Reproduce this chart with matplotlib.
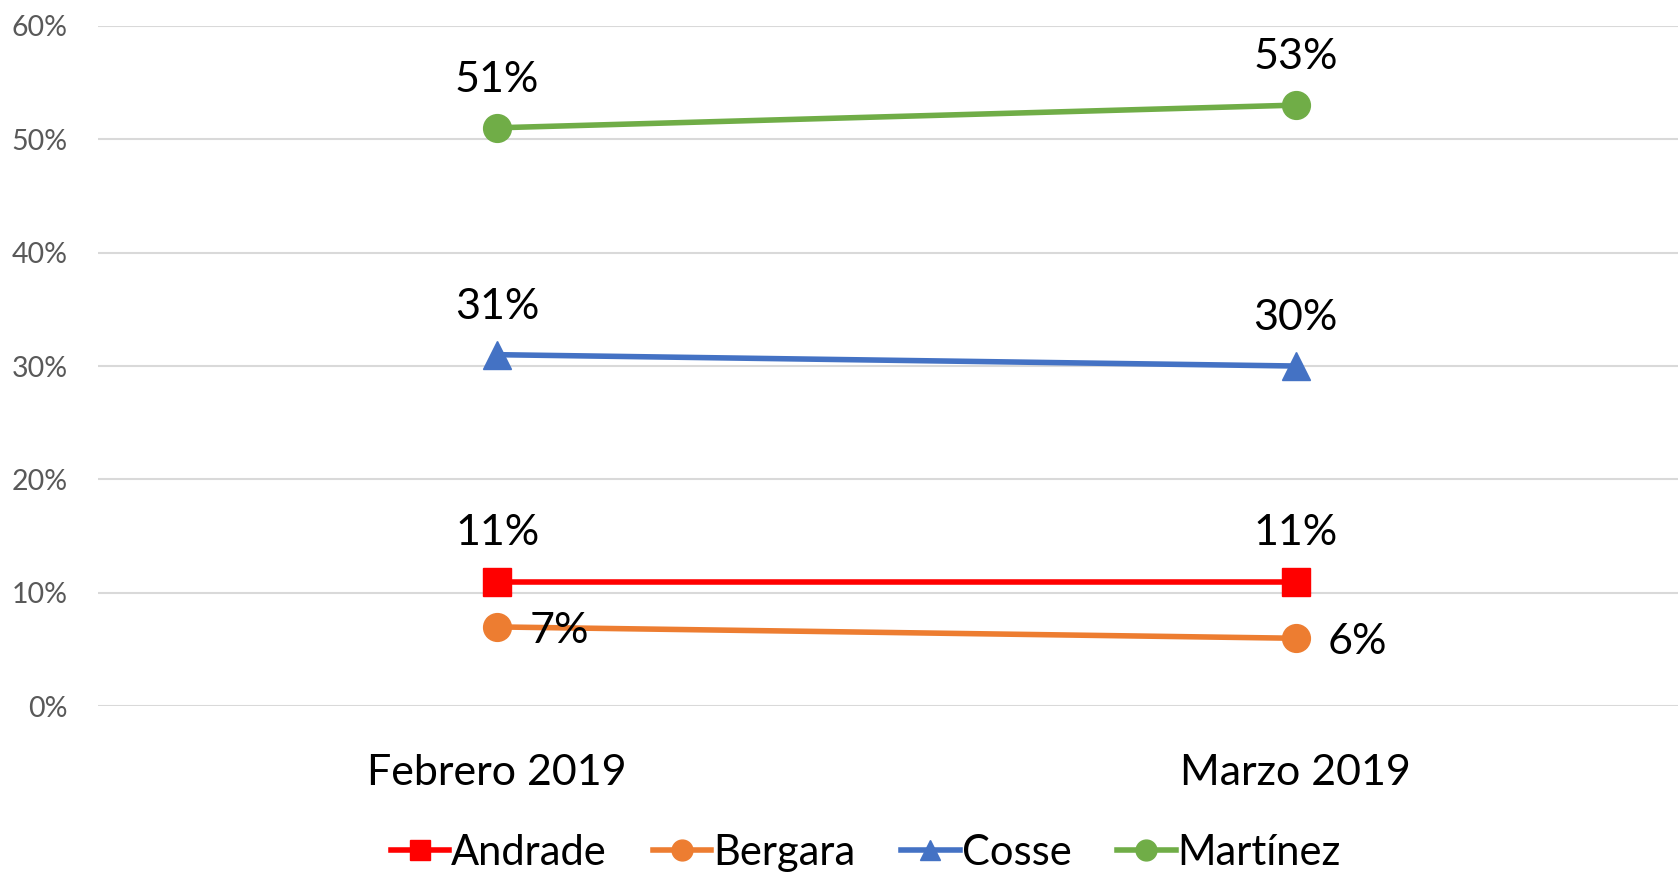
import matplotlib.pyplot as plt
from matplotlib.ticker import PercentFormatter

# data
months = ["Febrero 2019", "Marzo 2019"]
andrade = [0.11, 0.11]
bergara = [0.07, 0.06]
cosse = [0.31, 0.30]
martinez = [0.51, 0.53]

series = [
    ("Andrade", andrade, "#FF0000", "s", "above"),
    ("Bergara", bergara, "#ED7D31", "o", "right"),
    ("Cosse", cosse, "#4472C4", "^", "above"),
    ("Martínez", martinez, "#70AD47", "o", "above"),
]

plt.rcParams['font.family'] = ['Lato', 'DejaVu Sans']

fig = plt.figure(figsize=(16.78, 8.72), dpi=100)
# plot area runs a little past the right edge, like the original
ax = fig.add_axes([0.0584, 0.19, 0.9516, 0.7805])

x = list(range(len(months)))
for name, vals, color, marker, pos in series:
    ax.plot(x, vals, color=color, lw=4, marker=marker, markersize=20,
            label=name, zorder=3)
    for xi, v in zip(x, vals):
        txt = f"{v*100:.0f}%"
        if pos == "above":
            ax.annotate(txt, (xi, v), xytext=(0, 21), textcoords="offset points",
                        ha="center", va="bottom", fontsize=31, color="black")
        else:
            ax.annotate(txt, (xi, v), xytext=(23, -3), textcoords="offset points",
                        ha="left", va="center", fontsize=31, color="black")

ax.set_xlim(-0.5, 1.5)
ax.set_ylim(0, 0.6)
ax.set_yticks([0, 0.1, 0.2, 0.3, 0.4, 0.5, 0.6])
ax.yaxis.set_major_formatter(PercentFormatter(1.0, decimals=0))
ax.set_xticks(x)
ax.set_xticklabels(months)
ax.grid(axis="y", color="#D9D9D9", lw=1.5, zorder=0)
ax.set_axisbelow(True)
for s in ax.spines.values():
    s.set_visible(False)
ax.tick_params(axis="y", length=0, pad=22, labelsize=20.5, labelcolor="#595959")
ax.tick_params(axis="x", length=0, pad=34, labelsize=31, labelcolor="black")

handles, labels = ax.get_legend_handles_labels()
fig.legend(handles, labels, loc="center", bbox_to_anchor=(0.516, 0.022), ncol=4,
           frameon=False, fontsize=30, handlelength=1.4, handletextpad=0.05,
           columnspacing=1.1, markerscale=0.75, borderpad=0)

fig.savefig("out.png", dpi=100)
